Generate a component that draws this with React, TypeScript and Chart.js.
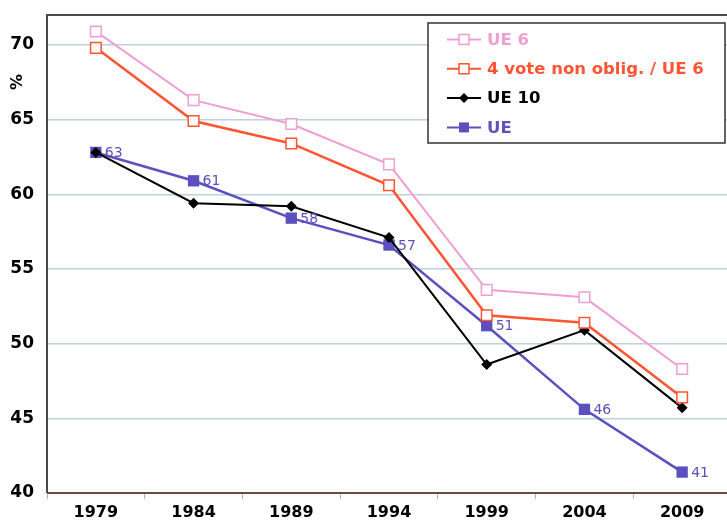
import React, { useEffect, useRef } from "react";
import { Chart, registerables } from "chart.js";

Chart.register(...registerables);

const years = ["1979", "1984", "1989", "1994", "1999", "2004", "2009"];
const ue6 = [70.9, 66.3, 64.7, 62.0, 53.6, 53.1, 48.3];
const nonOblig = [69.8, 64.9, 63.4, 60.6, 51.9, 51.4, 46.4];
const ue10 = [62.8, 59.4, 59.2, 57.1, 48.6, 50.9, 45.7];
const ue = [62.8, 60.9, 58.4, 56.6, 51.2, 45.6, 41.4];
const ueLabels = ["63", "61", "58", "57", "51", "46", "41"];
const yTicks = [40, 45, 50, 55, 60, 65, 70];

const PINK = "#ee9fd2";
const ORANGE = "#ff5533";
const BLACK = "#000000";
const PURPLE = "#5c4fbf";
const FONT = "'DejaVu Sans', Verdana, sans-serif";

export default function App() {
  const ref = useRef<HTMLCanvasElement | null>(null);
  useEffect(() => {
    const canvas = ref.current!;
    const overlay = {
      id: "overlay",
      beforeDatasetsDraw(chart: any) {
        const { ctx, chartArea: a } = chart;
        ctx.save();
        ctx.strokeStyle = "#4a4a4a";
        ctx.lineWidth = 2;
        ctx.beginPath();
        ctx.moveTo(a.left, a.bottom);
        ctx.lineTo(a.left, a.top);
        ctx.lineTo(a.right, a.top);
        ctx.stroke();
        ctx.strokeStyle = "#6b4a40";
        ctx.beginPath();
        ctx.moveTo(a.left, a.bottom);
        ctx.lineTo(a.right, a.bottom);
        ctx.stroke();
        ctx.restore();
      },
      afterDraw(chart: any) {
        const { ctx } = chart;
        ctx.save();
        // % axis title
        ctx.translate(18, 82);
        ctx.rotate(-Math.PI / 2);
        ctx.font = `bold 16px ${FONT}`;
        ctx.fillStyle = "#000";
        ctx.textAlign = "center";
        ctx.textBaseline = "middle";
        ctx.fillText("%", 0, 0);
        ctx.restore();

        // data labels for UE
        const meta = chart.getDatasetMeta(3);
        ctx.save();
        ctx.font = `14px ${FONT}`;
        ctx.fillStyle = PURPLE;
        ctx.textBaseline = "middle";
        ctx.textAlign = "left";
        meta.data.forEach((p: any, i: number) => {
          ctx.fillText(ueLabels[i], p.x + 9, p.y + 1);
        });
        ctx.restore();

        // legend
        ctx.save();
        const bx = 428, by = 23, bw = 297, bh = 120;
        ctx.fillStyle = "#fff";
        ctx.fillRect(bx, by, bw, bh);
        ctx.strokeStyle = "#3a3030";
        ctx.lineWidth = 1.5;
        ctx.strokeRect(bx, by, bw, bh);
        const items = [
          { t: "UE 6", c: PINK, m: "open" },
          { t: "4 vote non oblig. / UE 6", c: ORANGE, m: "open" },
          { t: "UE 10", c: BLACK, m: "diamond" },
          { t: "UE", c: PURPLE, m: "fill" },
        ];
        ctx.font = `bold 16.5px ${FONT}`;
        ctx.textBaseline = "middle";
        items.forEach((it, i) => {
          const y = 39.5 + i * 29.3;
          ctx.strokeStyle = it.c;
          ctx.lineWidth = 2;
          ctx.beginPath();
          ctx.moveTo(447, y);
          ctx.lineTo(481, y);
          ctx.stroke();
          if (it.m === "open") {
            ctx.fillStyle = "#fff";
            ctx.fillRect(459, y - 5, 10, 10);
            ctx.lineWidth = 1.5;
            ctx.strokeRect(459, y - 5, 10, 10);
          } else if (it.m === "fill") {
            ctx.fillStyle = it.c;
            ctx.fillRect(459, y - 5, 10, 10);
          } else {
            ctx.fillStyle = it.c;
            ctx.beginPath();
            ctx.moveTo(464, y - 5);
            ctx.lineTo(469, y);
            ctx.lineTo(464, y + 5);
            ctx.lineTo(459, y);
            ctx.closePath();
            ctx.fill();
          }
          ctx.fillStyle = it.c;
          ctx.fillText(it.t, 487, y + 1);
        });
        ctx.restore();
      },
    };

    const chart = new Chart(canvas, {
      type: "line",
      data: {
        labels: years,
        datasets: [
          {
            label: "UE 6",
            data: ue6,
            borderColor: PINK,
            backgroundColor: "#ffffff",
            borderWidth: 2,
            pointStyle: "rect",
            pointRadius: 7.5,
            pointBorderWidth: 1.5,
            pointBorderColor: PINK,
          },
          {
            label: "4 vote non oblig. / UE 6",
            data: nonOblig,
            borderColor: ORANGE,
            backgroundColor: "#ffffff",
            borderWidth: 2.5,
            pointStyle: "rect",
            pointRadius: 7.5,
            pointBorderWidth: 1.5,
            pointBorderColor: ORANGE,
          },
          {
            label: "UE 10",
            data: ue10,
            borderColor: BLACK,
            backgroundColor: BLACK,
            borderWidth: 2,
            pointStyle: "rectRot",
            pointRadius: 5.5,
            pointBorderWidth: 0,
          },
          {
            label: "UE",
            data: ue,
            borderColor: PURPLE,
            backgroundColor: PURPLE,
            borderWidth: 2.5,
            pointStyle: "rect",
            pointRadius: 8,
            pointBorderWidth: 0,
          },
        ],
      },
      options: {
        responsive: false,
        animation: false,
        layout: { padding: { left: 0, right: 7, top: 15, bottom: 0 } },
        plugins: { legend: { display: false }, tooltip: { enabled: false } },
        scales: {
          x: {
            offset: true,
            grid: {
              offset: true,
              drawOnChartArea: false,
              drawTicks: true,
              tickLength: 6,
              color: "#9fb7c8",
            },
            border: { display: false },
            ticks: {
              color: "#000",
              font: { family: FONT, size: 16, weight: "bold" },
              padding: 4,
            },
            afterFit(s: any) {
              s.height = 33;
              s.paddingLeft = 0;
              s.paddingRight = 0;
            },
          },
          y: {
            min: 40,
            max: 72,
            afterBuildTicks(s: any) {
              s.ticks = yTicks.map((v) => ({ value: v }));
            },
            grid: { color: "#bfd0da", lineWidth: 1.5, drawTicks: false },
            border: { display: false },
            ticks: {
              color: "#000",
              font: { family: FONT, size: 17, weight: "bold" },
              padding: 13,
            },
            afterFit(s: any) {
              s.width = 47;
              s.paddingTop = 0;
              s.paddingBottom = 0;
            },
          },
        },
      },
      plugins: [overlay],
    } as any);
    return () => chart.destroy();
  }, []);

  return (
    <div
      style={{
        position: "fixed",
        left: 0,
        top: 0,
        width: 727,
        height: 526,
        overflow: "hidden",
        background: "#fff",
      }}
    >
      <canvas ref={ref} width={740} height={526} style={{ display: "block" }} />
    </div>
  );
}
